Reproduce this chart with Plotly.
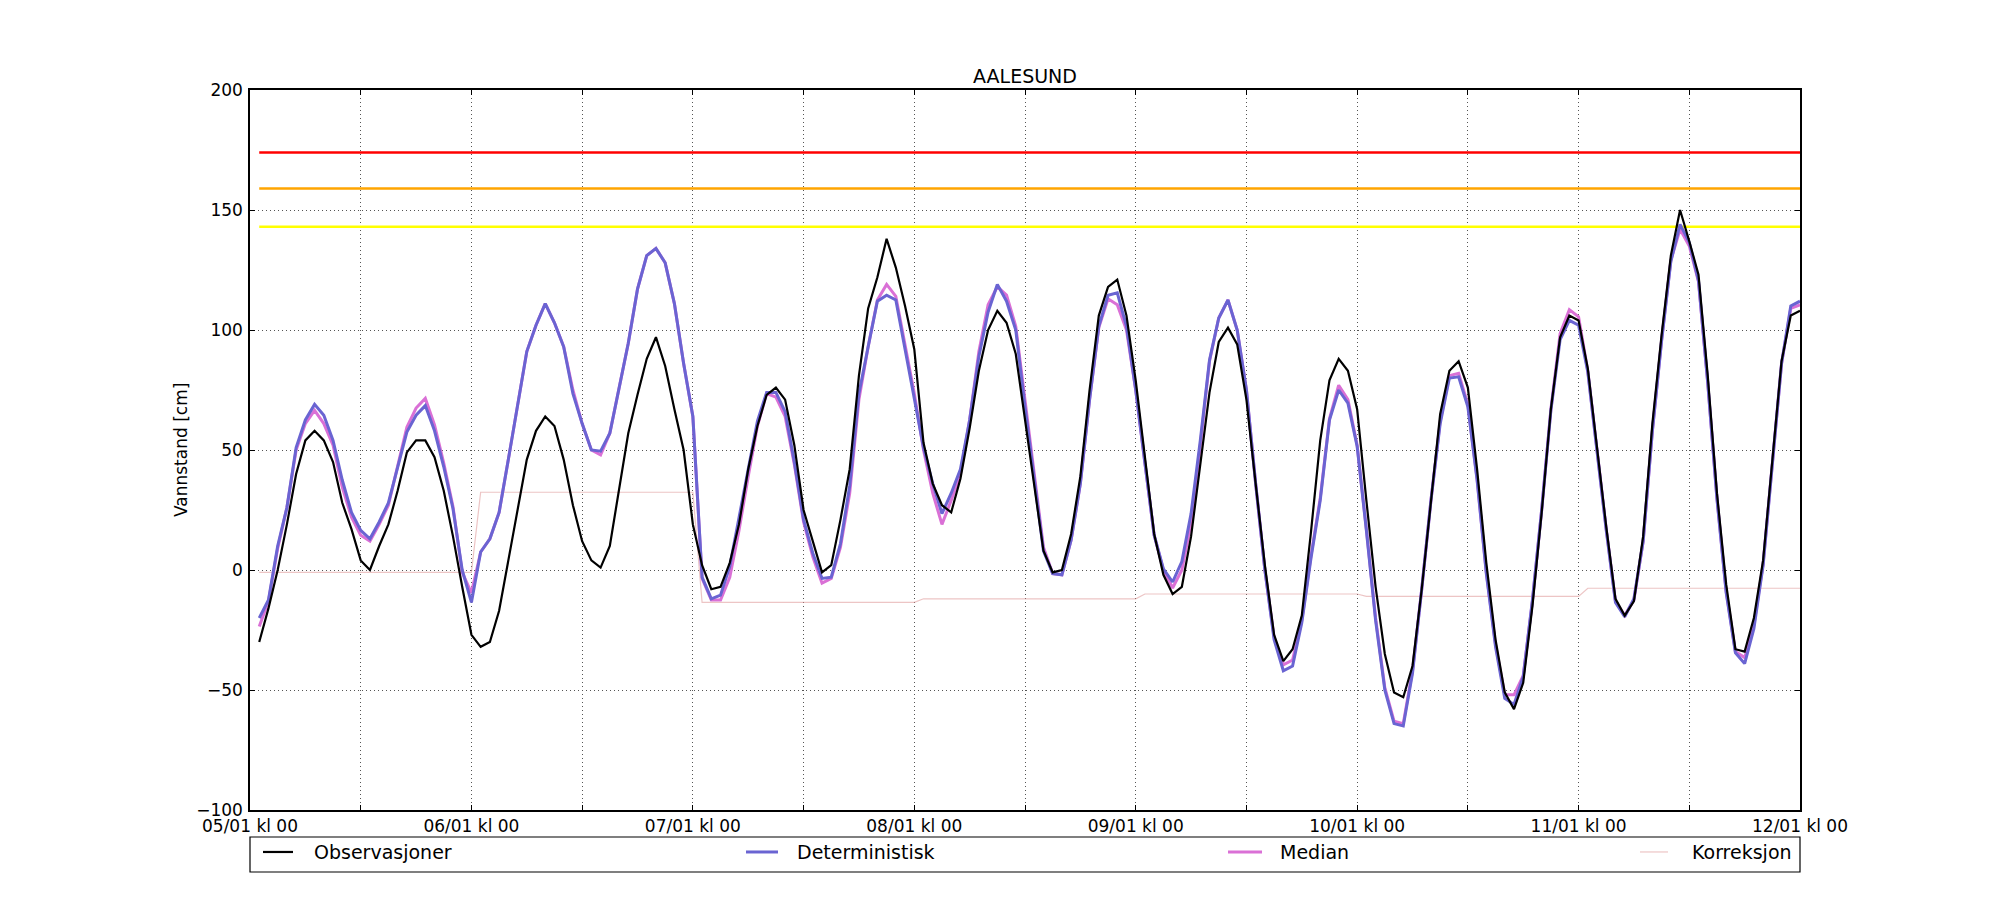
import pandas as pd
import plotly.graph_objects as go

# hourly series, first value at 05/01 kl 01
station = "AALESUND"
start_time = "2016-01-05 01:00"
end_time = "2016-01-12 00:00"

observasjoner = [
    -30, -16, 0, 19, 40, 54, 58, 54, 45, 28, 17, 4,
    0, 10, 19, 33, 49, 54, 54, 47, 33, 14, -7, -27,
    -32, -30, -17, 4, 25, 46, 58, 64, 60, 46, 27, 12,
    4, 1, 10, 33, 57, 73, 88, 97, 85, 67, 50, 19,
    2, -8, -7, 3, 19, 42, 60, 73, 76, 71, 52, 25,
    12, -1, 2, 21, 42, 81, 109, 122, 138, 126, 110, 92,
    53, 36, 27, 24, 38, 59, 83, 100, 108, 103, 90, 62,
    35, 8, -1, 0, 15, 39, 75, 106, 118, 121, 106, 79,
    47, 15, -2, -10, -7, 14, 44, 74, 95, 101, 94, 71,
    36, 2, -27, -38, -33, -19, 16, 54, 79, 88, 83, 67,
    29, -7, -35, -51, -53, -40, -8, 29, 65, 83, 87, 76,
    42, 3, -29, -51, -58, -47, -15, 24, 67, 97, 106, 104,
    84, 51, 18, -12, -19, -13, 14, 61, 98, 131, 150, 137,
    123, 81, 32, -6, -33, -34, -20, 4, 47, 87, 106, 108,
]

deterministisk = [
    -20, -12.5, 10, 26, 51, 62.5, 69, 64.5, 54, 37.5, 24, 16.5,
    13, 20, 28, 43, 57.5, 64.5, 68.5, 58, 43, 25.5, 0, -13.5,
    7.5, 13, 24, 46, 68, 91, 102, 111, 103, 93, 73.5, 61,
    50, 49.5, 57, 76, 94.5, 117, 131, 134, 128, 111, 86, 64,
    -3, -12, -10.5, 1.5, 21, 42, 62, 74, 74, 66, 45, 21,
    7, -3.5, -3, 11, 35, 73.5, 93, 112, 114.5, 112.5, 92, 72,
    51, 36, 23.5, 32, 42, 62.5, 89, 107.5, 119, 112, 100, 68,
    37.5, 8, -1.5, -2, 12.5, 36, 71, 101.5, 114.5, 115.5, 101.5, 75,
    44.5, 14.5, 0.5, -5, 3.5, 23.5, 54, 87.5, 105, 112.5, 100, 75,
    36, 0, -29, -42, -40, -22, 5, 29, 62.5, 75, 69.5, 51.5,
    16.5, -21, -50, -64, -65, -43, -8, 29, 61, 80, 80.5, 68,
    37.5, -1.5, -32, -53.5, -56, -44.5, -12.5, 25, 66.5, 96, 104, 102,
    82.5, 49.5, 16.5, -13.5, -19.5, -12, 12, 58, 95.5, 128.5, 144, 136.5,
    120.5, 78, 29.5, -9.5, -34.5, -39, -24.5, 2, 45, 86, 110, 112,
]

median = [
    -23.5, -13, 9, 26, 50, 61, 66.5, 61, 52, 34.5, 22, 14.5,
    12, 19, 27, 43, 59.5, 67.5, 71.5, 60.5, 44.5, 26.5, -1, -9.5,
    7.5, 13, 24, 46, 68, 91, 102, 111, 103, 93, 75, 61,
    50, 48, 57, 76, 94.5, 117, 131, 134, 128, 111, 86, 64,
    -3.5, -12.5, -12.5, -3, 16.5, 39, 60, 73.5, 72, 64, 44, 20,
    5.5, -5.5, -3.5, 9.5, 32, 71, 93, 112.5, 119, 114, 94.5, 73.5,
    50, 32, 19, 29, 40, 62.5, 91, 110.5, 118, 114.5, 101.5, 71,
    40, 9.5, -1.5, -2, 12.5, 36, 71, 101, 113, 110.5, 100, 75,
    44.5, 14.5, 0, -7.5, 0, 19.5, 52, 87, 105, 112.5, 100, 75,
    36, 0, -28, -39.5, -37.5, -21, 6, 30, 63, 77, 71, 52,
    17, -20, -49, -63, -64, -42, -8, 29, 62, 81, 82, 69,
    38, -1, -31, -52, -52, -44, -13, 25, 67, 98.5, 108.5, 105.5,
    83, 50, 17, -13, -19, -12.5, 12, 58, 96, 129, 142, 135,
    120, 78, 30, -9, -34, -36.5, -23, 2.5, 45.5, 86, 109, 110.5,
]

# one correction level per forecast day (24 hourly values each)
korreksjon_levels = [-1, 32.4, -13.5, -12, -10, -11, -7.6]

# warning levels
level_red = 174
level_orange = 159
level_yellow = 143

times = pd.date_range(start_time, periods=len(observasjoner), freq="h")
korreksjon = [v for v in korreksjon_levels for _ in range(24)]

tick_times = pd.date_range("2016-01-05 00:00", end_time, freq="12h")
tick_text = [t.strftime("%d/%m kl %H") if t.hour == 0 else "" for t in tick_times]

FONT = "DejaVu Sans"
KORR_COLOUR = "rgba(220,140,140,0.5)"

fig = go.Figure()

for level, colour in [(level_red, "#ff0000"), (level_orange, "#ffa500"), (level_yellow, "#ffff00")]:
    fig.add_trace(
        go.Scatter(
            x=[times[0], times[-1]], y=[level, level], mode="lines",
            line=dict(color=colour, width=2.5), showlegend=False, hoverinfo="skip",
        )
    )

fig.add_trace(go.Scatter(x=times, y=korreksjon, mode="lines", name="Korreksjon",
                         line=dict(color=KORR_COLOUR, width=1.2)))
fig.add_trace(go.Scatter(x=times, y=median, mode="lines", name="Median",
                         line=dict(color="#da70d6", width=3)))
fig.add_trace(go.Scatter(x=times, y=deterministisk, mode="lines", name="Deterministisk",
                         line=dict(color="#6a64d2", width=3)))
fig.add_trace(go.Scatter(x=times, y=observasjoner, mode="lines", name="Observasjoner",
                         line=dict(color="black", width=2.2)))

axis_common = dict(
    showline=True, linecolor="black", linewidth=1.5, mirror="ticks",
    ticks="inside", ticklen=5, tickcolor="black",
    showgrid=True, gridcolor="#555555", gridwidth=1, griddash="1px,3px",
    zeroline=False, tickfont=dict(family=FONT, size=17, color="black"),
)

fig.update_xaxes(
    type="date", range=["2016-01-05 00:00", end_time],
    tickvals=list(tick_times), ticktext=tick_text, **axis_common,
)
fig.update_yaxes(range=[-100, 200], tickvals=[-100, -50, 0, 50, 100, 150, 200],
                 ticklabelstandoff=2, **axis_common)

# manual legend box below the axes, like the original figure
legend_y = -0.0583
legend_items = [
    ("Observasjoner", "black", 2.2, 263, 293, 312),
    ("Deterministisk", "#6a64d2", 3, 746, 778, 795),
    ("Median", "#da70d6", 3, 1228, 1262, 1278),
    ("Korreksjon", KORR_COLOUR, 1.2, 1640, 1668, 1690),
]
shapes = [dict(type="rect", xref="paper", yref="paper", x0=0, x1=1, y0=-0.0861, y1=-0.0375,
               line=dict(color="black", width=1.2), fillcolor="white")]
annotations = []
for label, colour, lw, s0, s1, tx in legend_items:
    shapes.append(dict(type="line", xref="paper", yref="paper",
                       x0=(s0 - 250) / 1550, x1=(s1 - 250) / 1550, y0=legend_y, y1=legend_y,
                       line=dict(color=colour, width=lw)))
    annotations.append(dict(text=label, xref="paper", yref="paper", x=(tx - 250) / 1550, y=legend_y,
                            xanchor="left", yanchor="middle", showarrow=False,
                            font=dict(family=FONT, size=19, color="black")))

annotations.append(dict(text="Vannstand [cm]", xref="paper", yref="paper", x=-0.0445, y=0.5,
                        xanchor="center", yanchor="middle", textangle=-90, showarrow=False,
                        font=dict(family=FONT, size=17, color="black")))

# the page body adds 8px around the figure, so the figure is 16px smaller
fig.update_layout(
    width=1984, height=884,
    margin=dict(l=242, r=192, t=82, b=82),
    paper_bgcolor="white", plot_bgcolor="white",
    title=dict(text=station, x=(242 + 775) / 1984, xanchor="center", y=1 - 68.5 / 884,
               yanchor="middle", font=dict(family=FONT, size=19, color="black")),
    showlegend=False,
    shapes=shapes,
    annotations=annotations,
    font=dict(family=FONT),
)

fig.write_html("out.html")
